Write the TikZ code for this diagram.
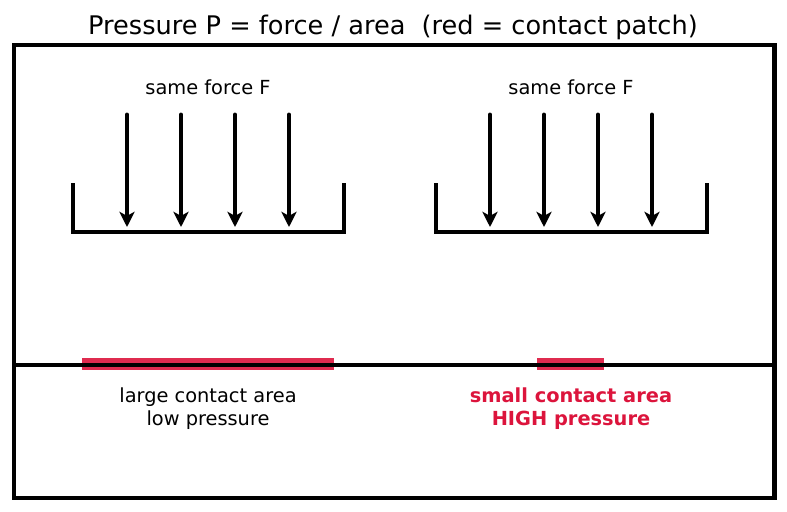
\documentclass[tikz,border=0pt]{standalone}
\usepackage{fontspec}
\setmainfont{DejaVu Sans}
\usepackage{xcolor}
\definecolor{crimson}{HTML}{DC143C}
\usetikzlibrary{arrows.meta,positioning}
\tikzset{
  >={Stealth[length=11pt,width=11pt,inset=3pt]},
  frame/.style  ={draw=black,line width=3.6pt},
  tray/.style   ={draw=black,line width=3.6pt,line cap=butt},
  force/.style  ={->,draw=black,line width=3.6pt,line cap=round},
  patch/.style  ={draw=crimson,line width=9pt,opacity=0.9},
  lbl/.style    ={font=\fontsize{14}{16.5}\selectfont,align=center,inner sep=1pt},
  hot/.style    ={lbl,text=crimson,font=\fontsize{14}{16.5}\selectfont\bfseries},
}

\begin{document}
\begin{tikzpicture}[x=0.01in,y=-0.01in]
\useasboundingbox (0,0) rectangle (787,512);
% title
\node[font=\fontsize{18.5}{22}\selectfont] (title) at (393,27) {Pressure P = force / area\ \ (red = contact patch)};
% frame
\coordinate (fnw) at (14,45);
\coordinate (fse) at (774,498);
\draw[frame] (fnw) rectangle (fse);
% force labels
\node[lbl] (fl) at (208,87) {same force F};
\node[lbl] (fr) at (571,87) {same force F};
% trays
\coordinate (lt1) at (73,183);
\coordinate (lt2) at (73,232);
\coordinate (lt3) at (344,232);
\coordinate (lt4) at (344,183);
\draw[tray] (lt1) -- (lt2) -- (lt3) -- (lt4);
\coordinate (rt1) at (436,183);
\coordinate (rt2) at (436,232);
\coordinate (rt3) at (707,232);
\coordinate (rt4) at (707,183);
\draw[tray] (rt1) -- (rt2) -- (rt3) -- (rt4);
% forces
\foreach \x [count=\i] in {127,181,235,289,490,544,598,652}{
  \coordinate (a\i) at (\x,115);
  \coordinate (b\i) at (\x,227);
  \draw[force] (a\i) -- (b\i);
}
% contact patches
\coordinate (lp1) at (82,364);
\coordinate (lp2) at (334,364);
\coordinate (rp1) at (537,364);
\coordinate (rp2) at (604,364);
\draw[patch] (lp1) -- (lp2);
\draw[patch] (rp1) -- (rp2);
% ground
\coordinate (g1) at (14,365);
\coordinate (g2) at (774,365);
\draw[frame] (g1) -- (g2);
% results
\node[lbl] (low) at (208,409) {large contact area\\low pressure};
\node[hot] (high) at (571,409) {small contact area\\HIGH pressure};
\end{tikzpicture}
\end{document}
